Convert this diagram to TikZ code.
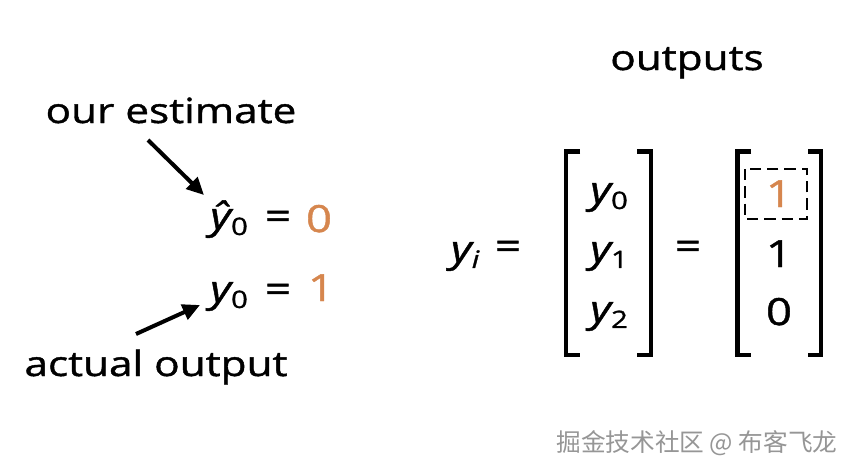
\documentclass[tikz,border=0pt]{standalone}
\usepackage{fontspec}
\setmainfont{Open Sans}[FakeStretch=1.22,FakeBold=1.2]
\newfontfamily\cjk{Noto Sans CJK SC}
\usetikzlibrary{arrows.meta}
\definecolor{accent}{RGB}{214,134,78}
\definecolor{wmark}{RGB}{150,150,150}
\newcommand{\subs}[1]{\raisebox{-0.16em}{\fontsize{18}{18}\selectfont #1}}
\tikzset{
  txt/.style={font=\fontsize{26}{30}\selectfont, inner sep=0pt, anchor=base},
  mtxt/.style={font=\fontsize{28}{30}\selectfont, inner sep=0pt, anchor=base},
  bracket/.style={line width=3.4pt, line join=miter, line cap=butt},
  pointer/.style={line width=3pt, -{Triangle[length=13pt,width=12pt]}},
  hilite/.style={line width=2.1pt, dash pattern=on 8.5pt off 4.5pt},
}
\begin{document}
\begin{tikzpicture}[x=0.75pt,y=-0.75pt]
\useasboundingbox[fill=white] (0,0) rectangle (856,475);
% left part
\node[txt] (est) at (171,123) {our estimate};
\node[txt] (act) at (156,376) {actual output};
\node[mtxt] (yhat) at (229,229) {\itshape ŷ\subs{\upshape 0}};
\node[mtxt] (eq1) at (278,229) {=};
\node[mtxt,text=accent] (zero) at (319,232) {0};
\node[mtxt] (y0) at (229,302) {\itshape y\subs{\upshape 0}};
\node[mtxt] (eq2) at (278,302) {=};
\node[mtxt,text=accent] (one) at (321,301) {1};
\coordinate (t1) at (148,140);
\coordinate (h1) at (204,195);
\coordinate (t2) at (136,334);
\coordinate (h2) at (200,305);
\draw[pointer] (t1) -- (h1);
\draw[pointer] (t2) -- (h2);
% right part
\node[txt] (outs) at (687,70) {outputs};
\node[mtxt] (yi) at (465,262) {\itshape y\subs{i}};
\node[mtxt] (eq3) at (508,259) {=};
\node[mtxt] (m0) at (609,203) {\itshape y\subs{\upshape 0}};
\node[mtxt] (m1) at (609,262) {\itshape y\subs{\upshape 1}};
\node[mtxt] (m2) at (609,322) {\itshape y\subs{\upshape 2}};
\node[mtxt] (eq4) at (688,259) {=};
\node[mtxt,text=accent] (v0) at (779,207) {1};
\node[mtxt] (v1) at (779,267) {1};
\node[mtxt] (v2) at (779,325) {0};
\draw[bracket] (580,151.5) -- (566,151.5) -- (566,355) -- (580,355);
\draw[bracket] (637,151.5) -- (651,151.5) -- (651,355) -- (637,355);
\draw[bracket] (751,151.5) -- (737.5,151.5) -- (737.5,355) -- (751,355);
\draw[bracket] (808,151.5) -- (821,151.5) -- (821,355) -- (808,355);
\draw[hilite] (745,169) rectangle (807,219);
% watermark
\node[inner sep=0pt, anchor=base, text=wmark, font=\cjk\fontsize{18.5}{20}\selectfont] (wm) at (697,451) {掘金技术社区 @ 布客飞龙};
\end{tikzpicture}
\end{document}
